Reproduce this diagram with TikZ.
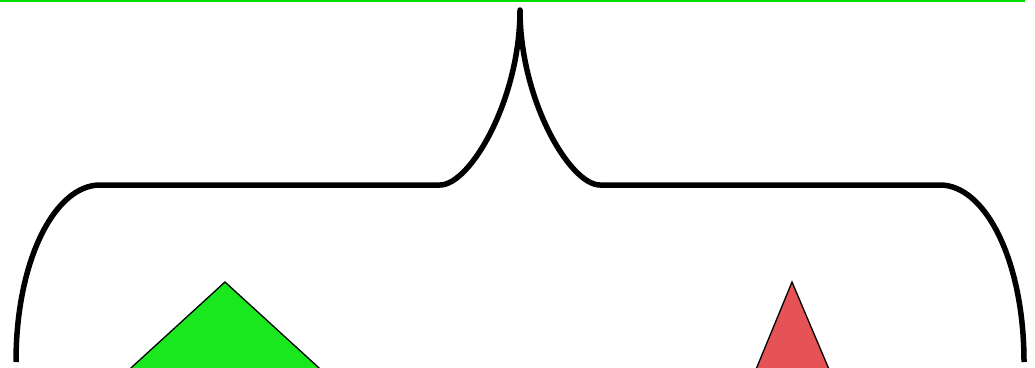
\documentclass[tikz,border=0pt]{standalone}
\begin{document}
\definecolor{lgreen}{RGB}{0,221,0}
\definecolor{tgreen}{RGB}{26,232,30}
\definecolor{tred}{RGB}{229,83,86}
\begin{tikzpicture}[x=1pt,y=-1pt,
  topline/.style={draw=lgreen,line width=1.5pt},
  bracestyle/.style={draw=black,line width=5.5pt,line join=round,line cap=butt},
  tri/.style={draw=black,line width=1.3pt,line join=miter}]
\useasboundingbox (0,0) rectangle (1035,367);
\clip (0,0) rectangle (1035,367);
\coordinate (tl) at (0,0.75);
\coordinate (tr) at (1025,0.75);
\draw[topline] (tl) -- (tr);
\coordinate (lb) at (16,362);
\coordinate (lc) at (100,185);
\coordinate (lm) at (440,185);
\coordinate (tip) at (520,10);
\coordinate (rm) at (600,185);
\coordinate (rc) at (940,185);
\coordinate (rb) at (1024,362);
\draw[bracestyle] (lb) .. controls (16,260) and (55,185) .. (lc) -- (lm)
  .. controls (470,185) and (520,100) .. (tip)
  .. controls (520,100) and (570,185) .. (rm) -- (rc)
  .. controls (985,185) and (1024,260) .. (rb);
\coordinate (ga) at (225,282);
\draw[tri,fill=tgreen] (ga) -- (115.6,382) -- (334.4,382) -- cycle;
\coordinate (ra) at (792,282);
\draw[tri,fill=tred] (ra) -- (750.8,382) -- (834.4,382) -- cycle;
\end{tikzpicture}
\end{document}
